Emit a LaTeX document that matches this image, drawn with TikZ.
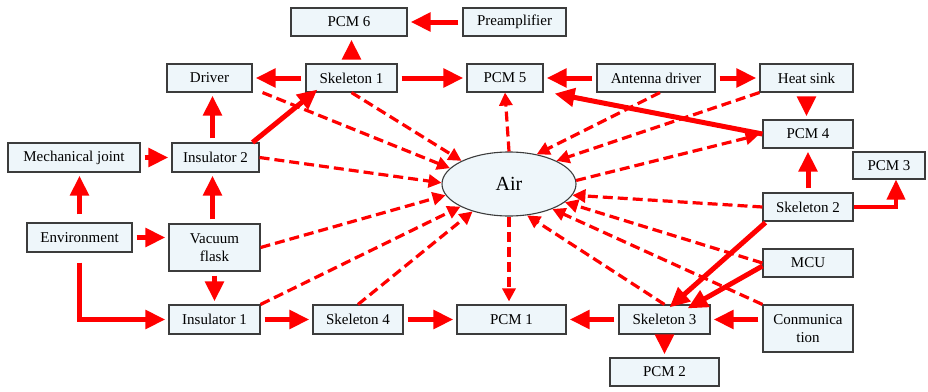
\documentclass[tikz,border=0pt]{standalone}
\usepackage{fontspec}
\setmainfont{Liberation Serif}
\newfontfamily\boxfont{Liberation Serif}
\usepackage{tikz}
\usetikzlibrary{arrows.meta,shapes.geometric}
\definecolor{boxfill}{RGB}{238,246,250}
\definecolor{boxline}{RGB}{60,60,60}

\begin{document}
\begin{tikzpicture}[x=1pt,y=-1pt]
  \tikzset{blockbox/.style={rectangle,draw=boxline,line width=1.1pt,fill=boxfill,inner sep=0pt,minimum height=28pt,align=center,font=\boxfont\fontsize{15}{18}\selectfont}}
  \tikzset{airnode/.style={ellipse,draw=boxline,line width=1.1pt,fill=boxfill,inner sep=0pt,minimum width=134pt,minimum height=64pt,font=\boxfont\fontsize{20}{22}\selectfont}}
  \tikzset{flowarrow/.style={draw=red,line width=5pt,-{Triangle[length=20pt,width=18pt]},shorten <=4pt,shorten >=3pt}}
  \tikzset{airarrow/.style={draw=red,line width=3.2pt,dash pattern=on 10pt off 5pt,-{Triangle[length=13pt,width=13pt]}}}
  \useasboundingbox (0,0) rectangle (928,391);
  % boxes
  \node[blockbox,minimum width=116pt] (pcmsix) at (349,22) {PCM 6};
  \node[blockbox,minimum width=103pt] (preamp) at (514.5,22) {Preamplifier};
  \node[blockbox,minimum width=85pt] (driver) at (209.5,78) {Driver};
  \node[blockbox,minimum width=91pt] (skelone) at (351.5,78) {Skeleton 1};
  \node[blockbox,minimum width=76pt] (pcmfive) at (505,78) {PCM 5};
  \node[blockbox,minimum width=118pt] (antenna) at (656,78) {Antenna driver};
  \node[blockbox,minimum width=93pt] (heatsink) at (806.5,78) {Heat sink};
  \node[blockbox,minimum width=90pt] (pcmfour) at (808,134) {PCM 4};
  \node[blockbox,minimum width=72pt,minimum height=27pt] (pcmthree) at (889,165.5) {PCM 3};
  \node[blockbox,minimum width=132pt,minimum height=29pt] (mechjoint) at (74,157.5) {Mechanical joint};
  \node[blockbox,minimum width=87pt,minimum height=29pt] (insultwo) at (215.5,157.5) {Insulator 2};
  \node[airnode] (air) at (509,184) {Air};
  \node[blockbox,minimum width=90pt] (skeltwo) at (808,207) {Skeleton 2};
  \node[blockbox,minimum width=105pt,minimum height=29pt] (environment) at (79.5,237.5) {Environment};
  \node[blockbox,minimum width=91pt,minimum height=47pt] (vacuum) at (214.5,247.5) {Vacuum\\flask};
  \node[blockbox,minimum width=90pt] (mcu) at (808,263) {MCU};
  \node[blockbox,minimum width=91pt,minimum height=29pt] (insulone) at (214.5,319.5) {Insulator 1};
  \node[blockbox,minimum width=90pt,minimum height=29pt] (skelfour) at (358,319.5) {Skeleton 4};
  \node[blockbox,minimum width=109pt,minimum height=29pt] (pcmone) at (511.5,319.5) {PCM 1};
  \node[blockbox,minimum width=91pt,minimum height=29pt] (skelthree) at (664.5,319.5) {Skeleton 3};
  \node[blockbox,minimum width=90pt,minimum height=47pt] (comm) at (808,328.5) {Conmunica\\tion};
  \node[blockbox,minimum width=109pt] (pcmtwo) at (664.5,372) {PCM 2};
  % solid arrows
  \draw[flowarrow] (preamp) -- (pcmsix);
  \draw[flowarrow] (skelone.north) -- (skelone.north |- pcmsix.south);
  \draw[flowarrow] (skelone) -- (driver);
  \draw[flowarrow] (skelone) -- (pcmfive);
  \draw[flowarrow] (antenna) -- (pcmfive);
  \draw[flowarrow] (antenna) -- (heatsink);
  \draw[flowarrow] (heatsink.south) -- (heatsink.south |- pcmfour.north);
  \draw[flowarrow,shorten <=0pt,shorten >=0pt] (pcmfour.west) -- ([xshift=11pt,yshift=-1pt]pcmfive.south east);
  \draw[flowarrow] (skeltwo.north) -- (pcmfour.south);
  \draw[flowarrow,line width=4pt,shorten <=0pt,shorten >=0pt] (skeltwo.east) -| ([xshift=7pt]pcmthree.south);
  \draw[flowarrow,shorten <=0pt,shorten >=0pt] ([xshift=3pt,yshift=-1pt]skeltwo.south west) -- ([xshift=5pt,yshift=-3pt]skelthree.north);
  \draw[flowarrow,shorten <=0pt,shorten >=0pt] ([yshift=-3pt]mcu.west) -- ([xshift=-23pt,yshift=-4pt]skelthree.north east);
  \draw[flowarrow] (comm.west |- skelthree.east) -- (skelthree.east);
  \draw[flowarrow] (skelthree) -- (pcmone);
  \draw[flowarrow] (skelthree.south) -- (skelthree.south |- pcmtwo.north);
  \draw[flowarrow] (skelfour) -- (pcmone);
  \draw[flowarrow] (insulone) -- (skelfour);
  \draw[flowarrow,shorten <=10pt] (environment.south) |- (insulone.west);
  \draw[flowarrow] (environment.east) -- (environment.east -| vacuum.west);
  \draw[flowarrow,shorten <=8pt] (environment.north) -- (environment.north |- mechjoint.south);
  \draw[flowarrow] (vacuum.south) -- (vacuum.south |- insulone.north);
  \draw[flowarrow] ([xshift=-2pt]vacuum.north) -- ([xshift=-2pt]vacuum.north |- insultwo.south);
  \draw[flowarrow] (mechjoint) -- (insultwo);
  \draw[flowarrow] ([xshift=-3pt]insultwo.north) -- ([xshift=-3pt]insultwo.north |- driver.south);
  \draw[flowarrow,shorten <=0pt,shorten >=0pt] ([xshift=-7pt]insultwo.north east) -- ([xshift=12pt,yshift=3pt]skelone.south west);
  % dashed arrows around the air
  \draw[airarrow] ([xshift=10pt]driver.south east) -- (air.165);
  \draw[airarrow] (skelone.south) -- (air.154);
  \draw[airarrow] (insultwo.east) -- (air.179);
  \draw[airarrow] (vacuum.east) -- (air.190);
  \draw[airarrow] (insulone.north east) -- (air.205);
  \draw[airarrow] (skelfour.north) -- (air.217);
  \draw[airarrow] (air.90) -- (pcmfive.south);
  \draw[airarrow] ([xshift=4pt]antenna.south) -- (air.47);
  \draw[airarrow] (heatsink.south west) -- (air.26);
  \draw[airarrow,shorten >=4pt] (air.3) -- (pcmfour.west);
  \draw[airarrow] (skeltwo.west) -- (air.350);
  \draw[airarrow] (mcu.west) -- (air.342);
  \draw[airarrow] (comm.north west) -- (air.330);
  \draw[airarrow] (skelthree.north) -- (air.300);
  \draw[airarrow,shorten >=3pt] (air.270) -- (air.270 |- pcmone.north);
\end{tikzpicture}
\end{document}
